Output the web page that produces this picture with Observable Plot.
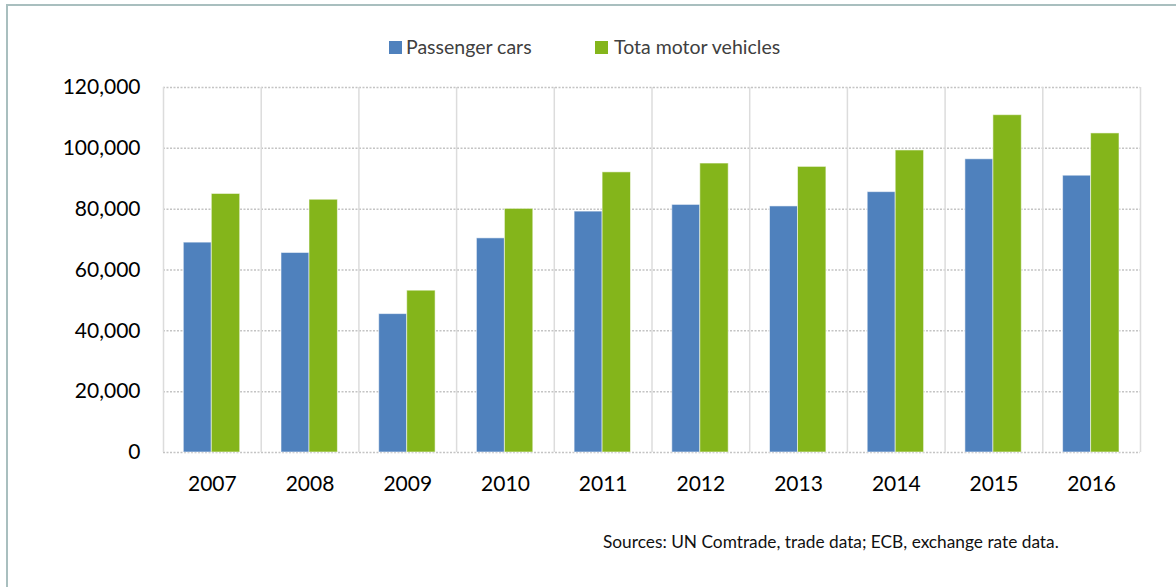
<!DOCTYPE html>
<html>
<head>
<meta charset="utf-8">
<script src="https://cdn.jsdelivr.net/npm/d3@7"></script>
<script src="https://cdn.jsdelivr.net/npm/@observablehq/plot@0.6"></script>
<style>
  html, body { margin: 0; padding: 0; background: #fff; }
  #wrap { position: relative; width: 1176px; height: 587px; overflow: hidden; font-family: Lato, sans-serif; }
  #frame { position: absolute; left: 6px; top: 4px; width: 1200px; height: 700px; border-top: 2px solid #a9bfbf; border-left: 2px solid #a9bfbf; box-sizing: border-box; }
  #chart { position: absolute; left: 0; top: 0; }
  .leg { position: absolute; top: 35px; font-size: 19.5px; color: #404040; white-space: nowrap; line-height: 24px; }
  .sw { position: absolute; top: 41px; width: 13px; height: 13px; }
  #caption { position: absolute; left: 603px; top: 531px; font-size: 17.3px; color: #111; white-space: nowrap; }
</style>
</head>
<body>
<div id="wrap">
  <div id="frame"></div>
  <div id="chart"></div>
  <div class="sw" id="sw1"></div><div class="leg" id="lg1"></div>
  <div class="sw" id="sw2"></div><div class="leg" id="lg2"></div>
  <div id="caption"></div>
</div>
<script>
// ---- data ----
const years = ["2007","2008","2009","2010","2011","2012","2013","2014","2015","2016"];
const seriesNames = ["Passenger cars", "Tota motor vehicles"];
const passengerCars = [69000, 65600, 45500, 70400, 79200, 81400, 80900, 85600, 96400, 91000];
const totalMotorVehicles = [85000, 83100, 53200, 80100, 92100, 95000, 93900, 99300, 110900, 104900];
const yTicks = [0, 20000, 40000, 60000, 80000, 100000, 120000];
const captionText = "Sources: UN Comtrade, trade data; ECB, exchange rate data.";
const colors = ["#4f81bd", "#84b51b"];

// ---- layout ----
const W = 1176, H = 587;
const mL = 163, mR = 36, mT = 87, mB = 135;
const step = (W - mL - mR) / years.length;

const carsRows = years.map((y, i) => ({year: y, value: passengerCars[i]}));
const totalRows = years.map((y, i) => ({year: y, value: totalMotorVehicles[i]}));

const chart = Plot.plot({
  width: W,
  height: H,
  marginLeft: mL,
  marginRight: mR,
  marginTop: mT,
  marginBottom: mB,
  style: {fontFamily: "Lato, sans-serif", fontSize: "21px", color: "#000", background: "transparent"},
  x: {type: "band", domain: years, padding: 0, round: false, label: null, tickSize: 0, tickPadding: 24},
  y: {domain: [0, 120000], ticks: yTicks, tickFormat: d3.format(","), label: null, tickSize: 0, tickPadding: 23},
  marks: [
    Plot.ruleY(yTicks, {stroke: "#c4c4c4", strokeWidth: 1.5, strokeDasharray: "2,1.5"}),
    Plot.ruleX(years, {x: d => d, dx: -step / 2, stroke: "#dcdcdc", strokeWidth: 1.5}),
    Plot.ruleX([years[years.length - 1]], {x: d => d, dx: step / 2, stroke: "#dcdcdc", strokeWidth: 1.5}),
    Plot.barY(carsRows, {x: "year", y: "value", fill: colors[0], insetLeft: 20.3, insetRight: 49.4, stroke: "#ffffff", strokeOpacity: 0.55, strokeWidth: 1}),
    Plot.barY(totalRows, {x: "year", y: "value", fill: colors[1], insetLeft: 48.3, insetRight: 21, stroke: "#ffffff", strokeOpacity: 0.55, strokeWidth: 1})
  ]
});
document.getElementById("chart").appendChild(chart);

// legend
const sw1 = document.getElementById("sw1"), sw2 = document.getElementById("sw2");
sw1.style.left = "389px"; sw1.style.background = colors[0];
sw2.style.left = "595px"; sw2.style.background = colors[1];
const lg1 = document.getElementById("lg1"), lg2 = document.getElementById("lg2");
lg1.style.left = "406px"; lg1.textContent = seriesNames[0];
lg2.style.left = "614px"; lg2.textContent = seriesNames[1];
document.getElementById("caption").textContent = captionText;
</script>
</body>
</html>
